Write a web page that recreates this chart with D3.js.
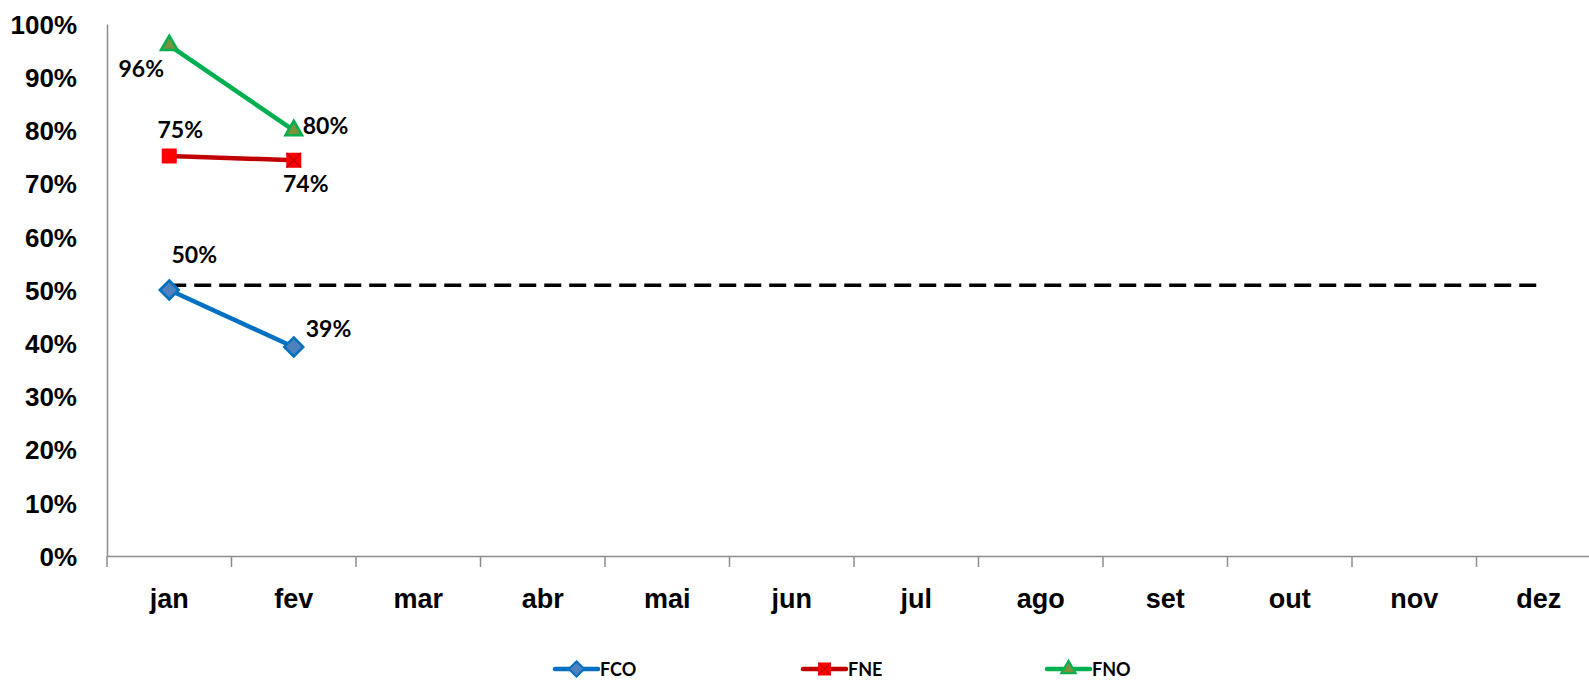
<!DOCTYPE html>
<html>
<head>
<meta charset="utf-8">
<title>FCO / FNE / FNO</title>
<style>
    body { margin: 0; background: #fff; }
    svg { font-family: Lato, "Open Sans", sans-serif; font-weight: bold; }
    .axis path, .axis line { stroke: #8c8c8c; stroke-width: 1.5; }
    .axis text { fill: #000; }
</style>
</head>
<body>
<script src="https://d3js.org/d3.v7.min.js"></script>
<script>
    // data
    var months = ["jan", "fev", "mar", "abr", "mai", "jun", "jul", "ago", "set", "out", "nov", "dez"];
    var fco = [0.50, 0.393];
    var fne = [0.752, 0.744];
    var fno = [0.96, 0.80];
    var target = 0.509;          // dashed reference line, jan..dez
    var yTicks = [0, 0.1, 0.2, 0.3, 0.4, 0.5, 0.6, 0.7, 0.8, 0.9, 1];

    var series = [
        { name: "FCO", values: fco, line: "#0070c0", fill: "#4f81bd", stroke: "#0070c0", marker: "diamond" },
        { name: "FNE", values: fne, line: "#c00000", fill: "#ff0000", stroke: "#ff0000", marker: "square" },
        { name: "FNO", values: fno, line: "#00b050", fill: "#77933c", stroke: "#00b050", marker: "triangle" }
    ];

    // where each data label sits relative to its point [dx, dy, anchor]
    var labelPos = {
        FCO: [[25, -27, "middle"], [12, -10, "start"]],
        FNE: [[11, -18, "middle"], [12, 32, "middle"]],
        FNO: [[-28, 32, "middle"], [9, 4, "start"]]
    };

    var width = 1589, height = 681;
    var margin = { left: 107, top: 24, bottom: 125 };
    var band = 124.5;

    var svg = d3.select("body").append("svg")
        .attr("width", width)
        .attr("height", height);

    var x = d3.scaleBand()
        .domain(months)
        .range([margin.left, margin.left + band * months.length])
        .padding(0);

    var y = d3.scaleLinear()
        .domain([0, 1])
        .range([height - margin.bottom, margin.top]);

    var symType = {
        diamond: d3.symbolDiamond2,
        square: d3.symbolSquare2,
        triangle: d3.symbolTriangle2
    };

    // y axis
    svg.append("g")
        .attr("class", "axis")
        .attr("transform", "translate(" + margin.left + ",0)")
        .call(d3.axisLeft(y).tickValues(yTicks).tickFormat(d3.format(".0%")).tickSize(0).tickPadding(30))
        .call(function(g) {
            g.selectAll("text").style("font-size", "26px").attr("dy", "0.36em");
        });

    // x axis, ticks between categories
    var xg = svg.append("g")
        .attr("class", "axis")
        .attr("transform", "translate(0," + y(0) + ")")
        .call(d3.axisBottom(x).tickSize(0).tickSizeOuter(0));
    xg.selectAll("text")
        .style("font-size", "27px")
        .attr("y", 52)
        .attr("dy", 0);
    xg.selectAll(".bound")
        .data(months)
        .enter().append("line")
        .attr("x1", function(d) { return x(d); })
        .attr("x2", function(d) { return x(d); })
        .attr("y1", 0)
        .attr("y2", 11);

    // dashed target line
    svg.append("line")
        .attr("x1", x(months[0]) + x.bandwidth() / 2)
        .attr("x2", x(months[months.length - 1]) + x.bandwidth() / 2)
        .attr("y1", y(target))
        .attr("y2", y(target))
        .style("stroke", "#000")
        .style("stroke-width", 3.5)
        .style("stroke-dasharray", "17,8");

    var cx = function(i) { return x(months[i]) + x.bandwidth() / 2; };

    var line = d3.line()
        .x(function(d, i) { return cx(i); })
        .y(function(d) { return y(d); });

    series.forEach(function(s) {
        var g = svg.append("g");
        g.append("path")
            .attr("d", line(s.values))
            .style("fill", "none")
            .style("stroke", s.line)
            .style("stroke-width", 4.5);

        g.selectAll(".pt")
            .data(s.values)
            .enter().append("path")
            .attr("transform", function(d, i) {
                return "translate(" + cx(i) + "," + y(d) + ")";
            })
            .attr("d", d3.symbol().type(symType[s.marker]).size(s.marker === "diamond" ? 230 : 200)())
            .style("fill", s.fill)
            .style("stroke", s.stroke)
            .style("stroke-width", 2.5);

        // the second FNE point carries an x mark
        if (s.name === "FNE") {
            g.append("path")
                .attr("transform", "translate(" + cx(1) + "," + y(s.values[1]) + ")")
                .attr("d", d3.symbol().type(d3.symbolTimes).size(140)())
                .style("fill", "none")
                .style("stroke", "#c00000")
                .style("stroke-width", 1.5);
        }

        g.selectAll(".lbl")
            .data(s.values)
            .enter().append("text")
            .attr("x", function(d, i) { return cx(i) + labelPos[s.name][i][0]; })
            .attr("y", function(d, i) { return y(d) + labelPos[s.name][i][1]; })
            .attr("text-anchor", function(d, i) { return labelPos[s.name][i][2]; })
            .style("font-size", "23px")
            .text(function(d) { return d3.format(".0%")(d); });
    });

    // legend
    var legX = [555, 803, 1047];
    var legY = 669;
    series.forEach(function(s, i) {
        var lg = svg.append("g").attr("transform", "translate(" + legX[i] + "," + legY + ")");
        lg.append("line")
            .attr("x1", 0).attr("x2", 43)
            .attr("y1", 0).attr("y2", 0)
            .style("stroke", s.line)
            .style("stroke-width", 4.5)
            .style("stroke-linecap", "round");
        lg.append("path")
            .attr("transform", "translate(21.5,0)")
            .attr("d", d3.symbol().type(symType[s.marker]).size(150)())
            .style("fill", s.fill)
            .style("stroke", s.stroke)
            .style("stroke-width", 2);
        if (s.name === "FNE") {
            lg.append("path")
                .attr("transform", "translate(21.5,0)")
                .attr("d", d3.symbol().type(d3.symbolTimes).size(100)())
                .style("fill", "none")
                .style("stroke", "#c00000")
                .style("stroke-width", 1.2);
        }
        lg.append("text")
            .attr("x", 45)
            .attr("y", 7)
            .style("font-size", "18px")
            .text(s.name);
    });
</script>
</body>
</html>
